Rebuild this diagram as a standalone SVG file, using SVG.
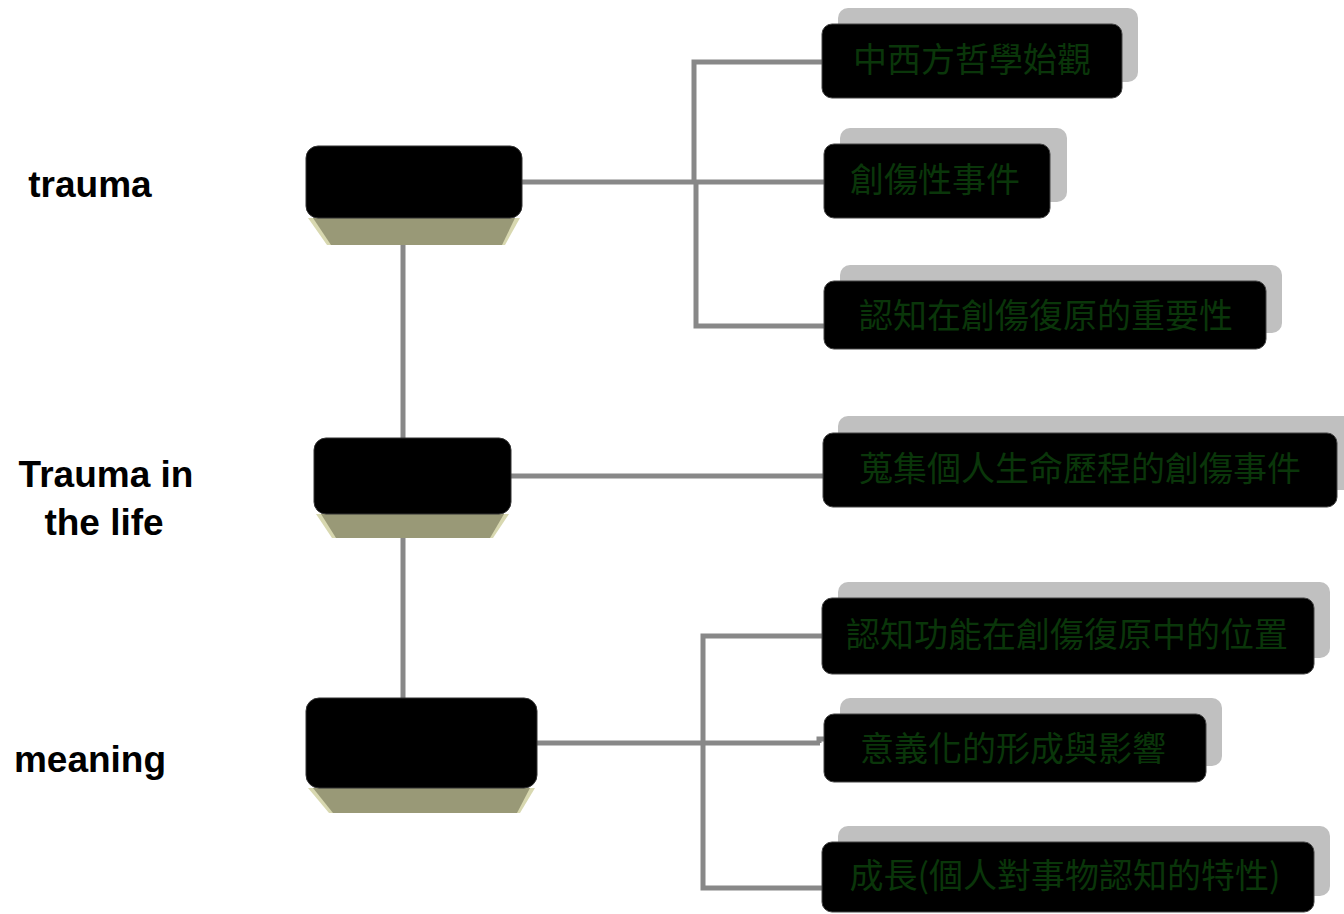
<svg xmlns="http://www.w3.org/2000/svg" width="1344" height="914" viewBox="0 0 1344 914">
<style>
.conn{fill:none;stroke:#888888;stroke-width:5}
.top{fill:#000000;stroke:#333333;stroke-width:1}
.base{fill:#999977}
.edge{fill:#d8d8b0}
.shadow{fill:#c0c0c0}
.box{fill:#000000;stroke:#444444;stroke-width:1}
.lbl{font-family:"Liberation Sans",Arial,sans-serif;font-weight:bold;font-size:37px;fill:#000000;text-anchor:middle}
.cjk{font-family:"Noto Sans CJK TC","Noto Sans CJK SC",sans-serif;font-size:34px;fill:#0a360a;text-anchor:middle}
</style>
<rect width="1344" height="914" fill="#ffffff"/>
<g id="connectors">
<line class="conn" x1="403" y1="240" x2="403" y2="442"/>
<line class="conn" x1="403" y1="534" x2="403" y2="702"/>
<line class="conn" x1="520" y1="182" x2="826" y2="182"/>
<polyline class="conn" points="824,62 694,62 694,182"/>
<polyline class="conn" points="696,182 696,326 826,326"/>
<line class="conn" x1="508" y1="476" x2="826" y2="476"/>
<line class="conn" x1="535" y1="743" x2="820" y2="743"/>
<polyline class="conn" points="819,743 819,739 826,739"/>
<polyline class="conn" points="824,636 703,636 703,888 824,888"/>
</g>
<g id="label-trauma"><text class="lbl" x="90" y="197">trauma</text></g>
<g id="label-life"><text class="lbl" x="106" y="487">Trauma in</text><text class="lbl" x="104" y="535">the life</text></g>
<g id="label-meaning"><text class="lbl" x="90" y="772">meaning</text></g>
<g id="node-trauma">
<polygon class="edge" points="308,218 520,218 505,245 327,245"/>
<polygon class="base" points="313,218 515,218 502,245 331,245"/>
<rect class="top" x="306" y="146" width="216" height="72" rx="12"/>
</g>
<g id="node-life">
<polygon class="edge" points="316,514 509,514 493,538 332,538"/>
<polygon class="base" points="321,514 504,514 490,538 336,538"/>
<rect class="top" x="314" y="438" width="197" height="76" rx="12"/>
</g>
<g id="node-meaning">
<polygon class="edge" points="308,788 535,788 520,813 329,813"/>
<polygon class="base" points="313,788 530,788 517,813 333,813"/>
<rect class="top" x="306" y="698" width="231" height="90" rx="13"/>
</g>
<g id="child-a">
<rect class="shadow" x="838" y="8" width="300" height="74" rx="10"/>
<rect class="box" x="822" y="24" width="300" height="74" rx="10"/>
<text class="cjk" x="972" y="72">中西方哲學始觀</text>
</g>
<g id="child-b">
<rect class="shadow" x="840" y="128" width="227" height="74" rx="10"/>
<rect class="box" x="824" y="144" width="226" height="74" rx="10"/>
<text class="cjk" x="935" y="192">創傷性事件</text>
</g>
<g id="child-c">
<rect class="shadow" x="840" y="265" width="442" height="68" rx="10"/>
<rect class="box" x="824" y="281" width="442" height="68" rx="10"/>
<text class="cjk" x="1046" y="328">認知在創傷復原的重要性</text>
</g>
<g id="child-d">
<rect class="shadow" x="838" y="416" width="520" height="74" rx="10"/>
<rect class="box" x="823" y="433" width="514" height="74" rx="10"/>
<text class="cjk" x="1080" y="481">蒐集個人生命歷程的創傷事件</text>
</g>
<g id="child-e">
<rect class="shadow" x="838" y="582" width="492" height="76" rx="10"/>
<rect class="box" x="822" y="598" width="492" height="76" rx="10"/>
<text class="cjk" x="1067" y="647">認知功能在創傷復原中的位置</text>
</g>
<g id="child-f">
<rect class="shadow" x="840" y="698" width="382" height="68" rx="10"/>
<rect class="box" x="824" y="714" width="382" height="68" rx="10"/>
<text class="cjk" x="1013" y="761">意義化的形成與影響</text>
</g>
<g id="child-g">
<rect class="shadow" x="838" y="826" width="492" height="70" rx="10"/>
<rect class="box" x="822" y="842" width="492" height="70" rx="10"/>
<text class="cjk" x="1065" y="888">成長(個人對事物認知的特性)</text>
</g>
</svg>
